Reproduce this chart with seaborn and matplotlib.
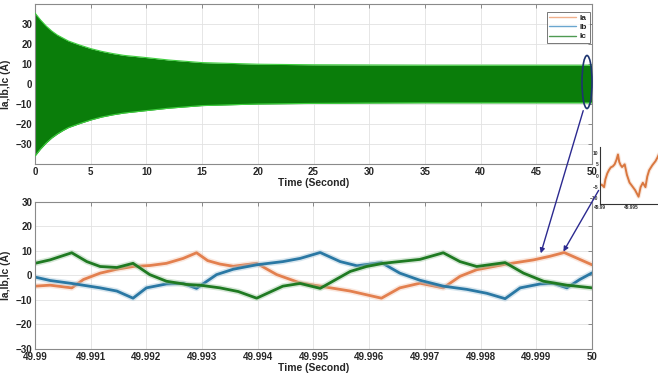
import numpy as np
import pandas as pd
import matplotlib
matplotlib.use("Agg")
import matplotlib.pyplot as plt
import matplotlib.colors as mcolors
import seaborn as sns
import matplotlib.patheffects as pe
from matplotlib.patches import Ellipse, FancyArrowPatch
from matplotlib.lines import Line2D

# ---------------- data ----------------
# envelope of the dense green band in the upper plot
env_t = [0, 0.5, 1, 1.5, 2, 2.5, 3, 4, 5, 6, 7, 8, 10, 12, 15, 20, 25, 30, 35, 40, 45, 50]
env_upper = [35.5, 32.0, 29.0, 26.5, 24.5, 23.0, 21.5, 19.5, 17.7, 16.3, 15.2, 14.3,
             13.2, 12.0, 10.7, 9.9, 9.6, 9.5, 9.4, 9.4, 9.4, 9.4]
env_lower = [-36.0, -32.5, -29.5, -27.0, -25.0, -23.3, -21.8, -19.8, -18.0, -16.5, -15.4,
             -14.5, -13.3, -12.1, -10.8, -10.0, -9.7, -9.5, -9.4, -9.4, -9.4, -9.4]

ia_t = [49.99000, 49.99027, 49.99066, 49.99087, 49.99117, 49.99147, 49.99176, 49.99206,
        49.99236, 49.99266, 49.99290, 49.99310, 49.99332, 49.99356, 49.99398, 49.99434,
        49.99476, 49.99512, 49.99566, 49.99622, 49.99655, 49.99691, 49.99733, 49.99763,
        49.99793, 49.99844, 49.99895, 49.99925, 49.99950, 49.99978, 50.00000]
ia_v = [-4.4, -4.0, -5.1, -1.7, 0.9, 2.5, 3.6, 4.0,
        4.9, 6.9, 9.2, 6.0, 4.6, 3.7, 4.9, 0.3,
        -3.1, -4.4, -6.4, -9.3, -5.1, -3.2, -5.1, -0.4,
        2.3, 4.5, 6.3, 7.8, 9.3, 6.5, 4.3]

ib_t = [49.99000, 49.99027, 49.99066, 49.99117, 49.99147, 49.99176, 49.99200, 49.99236,
        49.99266, 49.99290, 49.99326, 49.99356, 49.99398, 49.99445, 49.99476, 49.99512,
        49.99548, 49.99578, 49.99622, 49.99655, 49.99691, 49.99733, 49.99775, 49.99811,
        49.99844, 49.99871, 49.99907, 49.99931, 49.99955, 49.99978, 50.00000]
ib_v = [-0.7, -2.1, -3.3, -5.1, -6.4, -9.3, -5.1, -3.5,
        -3.3, -5.3, 0.3, 2.5, 4.3, 5.6, 6.9, 9.3,
        5.6, 3.9, 5.2, 0.9, -2.0, -4.4, -5.7, -7.3,
        -9.5, -5.1, -3.5, -3.3, -5.1, -1.7, 1.0]

ic_t = [49.99000, 49.99027, 49.99066, 49.99093, 49.99117, 49.99147, 49.99176, 49.99206,
        49.99236, 49.99272, 49.99296, 49.99332, 49.99365, 49.99398, 49.99445, 49.99476,
        49.99512, 49.99566, 49.99595, 49.99625, 49.99691, 49.99733, 49.99763, 49.99793,
        49.99844, 49.99877, 49.99913, 49.99955, 50.00000]
ic_v = [4.9, 6.3, 9.2, 5.6, 3.6, 3.2, 4.9, 0.3,
        -2.4, -3.7, -4.0, -5.1, -6.6, -9.3, -4.4, -3.3,
        -5.3, 1.6, 3.6, 4.9, 6.5, 9.2, 5.6, 3.6,
        5.2, 0.9, -2.4, -4.0, -5.1]

phases = ["Ia", "Ib", "Ic"]
top_xticks = [0, 5, 10, 15, 20, 25, 30, 35, 40, 45, 50]
top_yticks = [-30, -20, -10, 0, 10, 20, 30]
bot_xticks = [49.99, 49.991, 49.992, 49.993, 49.994, 49.995, 49.996, 49.997, 49.998, 49.999, 50.0]
bot_xtick_labels = ["49.99", "49.991", "49.992", "49.993", "49.994", "49.995",
                    "49.996", "49.997", "49.998", "49.999", "50"]
bot_yticks = [-30, -20, -10, 0, 10, 20, 30]
ins_xticks = [49.99, 49.995, 50.0]
ins_xtick_labels = ["49.99", "49.995", "50"]
ins_yticks = [-10, -5, 0, 5, 10]

# ---------------- style ----------------
sns.set_theme(style="white")
plt.rcParams['font.family'] = ['Liberation Sans', 'DejaVu Sans']

c_a, c_b, c_c = "#e3804f", "#2a78a4", "#1f7a22"
band_col = "#0a7d0a"
band_edge = "#3fcf3f"
pal = {"Ia": c_a, "Ib": c_b, "Ic": c_c}

W, H = 658, 381
fig = plt.figure(figsize=(W / 100, H / 100), dpi=100)


def box(l, t, r, b):
    return [l / W, 1 - b / H, (r - l) / W, (b - t) / H]


def style(ax, fs=7, spine_col="#8a8a8a"):
    ax.grid(True, color="#e2e2e2", lw=0.6)
    ax.set_axisbelow(True)
    ax.tick_params(direction="in", top=True, right=True, length=3, width=0.6,
                   labelsize=fs, color="#7a7a7a", labelcolor="#262626", pad=2)
    for s in ax.spines.values():
        s.set_color(spine_col)
        s.set_linewidth(0.8)
    for lab in ax.get_xticklabels() + ax.get_yticklabels():
        lab.set_fontweight("bold")


def lighten(col, f):
    r, g, b = mcolors.to_rgb(col)
    return (r + (1 - r) * f, g + (1 - g) * f, b + (1 - b) * f)


def glow(ax, lw_glow=4.2, alpha=0.45, f=0.6):
    for ln in ax.lines:
        col = ln.get_color()
        ln.set_path_effects([pe.Stroke(linewidth=lw_glow, foreground=lighten(col, f), alpha=alpha),
                             pe.Normal()])


# ---------------- top: full 50 s record ----------------
ax1 = fig.add_axes(box(35, 4, 592, 164))
ax1.fill_between(env_t, env_lower, env_upper, color=band_col, lw=0, zorder=2)
sns.lineplot(x=env_t, y=env_upper, ax=ax1, color=band_edge, lw=0.8, zorder=3)
sns.lineplot(x=env_t, y=env_lower, ax=ax1, color=band_edge, lw=0.8, zorder=3)
ax1.set_xlim(0, 50)
ax1.set_ylim(-40, 40)
ax1.set_xticks(top_xticks)
ax1.set_yticks(top_yticks)
ax1.set_xlabel("Time (Second)", fontsize=7.5, fontweight="bold", labelpad=1)
ax1.set_ylabel("Ia,Ib,Ic (A)", fontsize=7.5, fontweight="bold", labelpad=3)
style(ax1)
handles = [Line2D([], [], color="#f0b08c", lw=1.0),
           Line2D([], [], color="#6aa6cf", lw=1.0),
           Line2D([], [], color="#4f9a52", lw=1.0)]
leg = ax1.legend(handles, phases, loc="upper right", bbox_to_anchor=(0.996, 0.95),
                 borderaxespad=0, fontsize=6, frameon=True, fancybox=False,
                 handlelength=3.2, handletextpad=0.5, borderpad=0.3, labelspacing=0.15,
                 markerfirst=True)
leg.get_frame().set_edgecolor("#555555")
leg.get_frame().set_linewidth(0.7)
for t in leg.get_texts():
    t.set_fontweight("bold")

# ---------------- bottom: last 10 ms ----------------
df = pd.concat([
    pd.DataFrame({"t": ia_t, "I": ia_v, "phase": "Ia"}),
    pd.DataFrame({"t": ib_t, "I": ib_v, "phase": "Ib"}),
    pd.DataFrame({"t": ic_t, "I": ic_v, "phase": "Ic"}),
], ignore_index=True)

ax2 = fig.add_axes(box(35, 201.7, 592, 349))
sns.lineplot(data=df, x="t", y="I", hue="phase", palette=pal, hue_order=phases,
             estimator=None, lw=2.0, ax=ax2, legend=False)
glow(ax2)
ax2.set_xlim(49.99, 50.0)
ax2.set_ylim(-30, 30)
ax2.set_xticks(bot_xticks)
ax2.set_xticklabels(bot_xtick_labels)
ax2.set_yticks(bot_yticks)
ax2.set_xlabel("Time (Second)", fontsize=7.5, fontweight="bold", labelpad=1)
ax2.set_ylabel("Ia,Ib,Ic (A)", fontsize=7.5, fontweight="bold", labelpad=3)
style(ax2)

# ---------------- inset: Ia zoom ----------------
ax3 = fig.add_axes(box(600, 147, 662, 204))
ax3.patch.set_alpha(0)
sns.lineplot(x=ia_t, y=ia_v, ax=ax3, color="#d9773f", lw=1.4)
glow(ax3, lw_glow=3.0, alpha=0.45)
ax3.set_xlim(49.99, 50.0)
ax3.set_ylim(-12.5, 12.5)
ax3.set_xticks(ins_xticks)
ax3.set_xticklabels(ins_xtick_labels)
ax3.set_yticks(ins_yticks)
ax3.grid(False)
ax3.tick_params(direction="in", length=1.5, width=0.5, labelsize=3.5,
                labelcolor="#333333", pad=1)
for lab in ax3.get_xticklabels() + ax3.get_yticklabels():
    lab.set_fontweight("bold")
for side in ["top", "right"]:
    ax3.spines[side].set_visible(False)
for side in ["left", "bottom"]:
    ax3.spines[side].set_color("#333333")
    ax3.spines[side].set_linewidth(0.8)

# ---------------- annotations: ellipse + arrows ----------------
ell = Ellipse((587 / W, 1 - 82 / H), 10 / W, 53 / H, transform=fig.transFigure,
              fill=False, edgecolor="#1d3570", lw=1.2, zorder=10)
fig.add_artist(ell)
for (x0, y0), (x1, y1) in [((584, 108), (540, 256)), ((600, 188), (562, 254))]:
    arr = FancyArrowPatch((x0 / W, 1 - y0 / H), (x1 / W, 1 - y1 / H),
                          transform=fig.transFigure, arrowstyle="-|>",
                          mutation_scale=7, color="#2c2a90", lw=1.0, zorder=10)
    fig.add_artist(arr)

fig.savefig("out.png", dpi=100)
